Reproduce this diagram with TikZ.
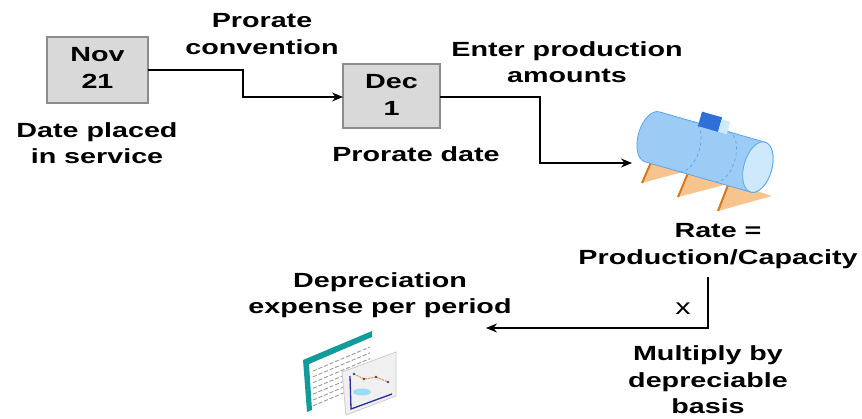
\documentclass[tikz,border=0pt]{standalone}
\usepackage{fontspec}
\setmainfont[FakeStretch=1.4]{Liberation Sans}
\usetikzlibrary{arrows.meta}
\definecolor{boxfill}{HTML}{D9D9D9}
\definecolor{boxline}{HTML}{8C8C8C}
\definecolor{tankbody}{HTML}{9CCBF5}
\definecolor{tankline}{HTML}{5AA6EE}
\definecolor{tankend}{HTML}{CFE9FC}
\definecolor{tankcap}{HTML}{2F6FD8}
\definecolor{legdark}{HTML}{D9761E}
\definecolor{leglight}{HTML}{F8C48E}
\definecolor{sheetteal}{HTML}{139A9A}
\definecolor{chartblue}{HTML}{2A2AA0}
\definecolor{chartorange}{HTML}{E8803A}
\tikzset{
  datebox/.style={draw=boxline, fill=boxfill, line width=1.3pt},
  lbl/.style={font=\fontsize{20.5}{26.5}\selectfont\bfseries, align=center, inner sep=0pt},
  flow/.style={line width=1.6pt, -{Stealth[length=11pt,width=9pt]}},
}
\begin{document}
\begin{tikzpicture}[x=1pt,y=-1pt]
\useasboundingbox (0,0) rectangle (862,418);

% date boxes
\draw[datebox] (47,37) rectangle (148,103);
\node[lbl] (nov) at (97.5,68) {Nov\\21};
\coordinate (novE) at (148,70);
\draw[datebox] (343,64) rectangle (440,128);
\node[lbl] (dec) at (391.5,95) {Dec\\1};
\coordinate (decW) at (343,97);
\coordinate (decE) at (440,97);

% labels
\node[lbl] (conv) at (262,34) {Prorate\\convention};
\node[lbl] (placed) at (97,143) {Date placed\\in service};
\node[lbl] (prodate) at (416,154) {Prorate date};
\node[lbl] (enter) at (567,62) {Enter production\\amounts};
\node[lbl] (rate) at (718,246) {Rate =\\Production/Capacity};
\node[lbl] (deprec) at (380,295) {Depreciation\\expense per period};
\node[lbl] (mult) at (708,380) {Multiply by\\depreciable\\basis};
\node[font=\fontsize{22}{24}\selectfont, inner sep=0pt] (times) at (683,309) {x};

% tank on three supports
\coordinate (tankW) at (632,163);
\begin{scope}
  \fill[leglight] (642,183) -- (652,158) -- (690,170) -- cycle;
  \draw[legdark, line width=2pt] (642,183) -- (652,160);
  \fill[leglight] (678,197) -- (689,170) -- (728,184) -- cycle;
  \draw[legdark, line width=2pt] (678,197) -- (688,173);
  \fill[leglight] (718,211) -- (729,182) -- (772,196) -- cycle;
  \draw[legdark, line width=2pt] (718,211) -- (728,185);
\end{scope}
\begin{scope}[shift={(705,152)}, rotate=-16]
  \draw[tankline, fill=tankbody, line width=0.8pt]
    (-55,-26) -- (55,-26) arc[start angle=-90, end angle=90, x radius=14, y radius=26]
    -- (-55,26) arc[start angle=90, end angle=270, x radius=14, y radius=26] -- cycle;
  \draw[tankline, dashed, line width=0.7pt]
    (-20,-26) arc[start angle=-90, end angle=90, x radius=14, y radius=26];
  \draw[tankline, dashed, line width=0.7pt]
    (17,-26) arc[start angle=-90, end angle=90, x radius=14, y radius=26];
  \draw[tankline, fill=tankend, line width=0.8pt] (55,0) ellipse[x radius=14, y radius=26];
  \fill[tankcap] (-14,-38) rectangle (7,-23);
  \fill[tankend] (7,-36) rectangle (16,-23);
\end{scope}

% spreadsheet and chart
\coordinate (sheet) at (340,385);
\begin{scope}
  \fill[white] (304,362) -- (372,333) -- (372,388) -- (308,412) -- cycle;
  \fill[sheetteal] (303,360) -- (372,331) -- (372,337) -- (309,364) -- (312,410) -- (307,412) -- cycle;
  \foreach \i in {0,...,6}
    \draw[gray!80, line width=0.9pt, dash pattern=on 4pt off 2pt]
      (313,{371+5.8*\i}) -- (370,{347+5.8*\i});
  \draw[gray!40, fill=gray!12, line width=0.8pt]
    (342,372) -- (396,352) -- (396,396) -- (346,415) -- cycle;
  \draw[chartblue, line width=1.3pt] (350,376) -- (351,409) -- (392,394);
  \fill[cyan!40] (362,392) ellipse[x radius=9, y radius=3.5];
  \draw[chartorange, line width=0.9pt, dash pattern=on 2pt off 1pt]
    (354,374) -- (364,379) -- (376,377) -- (388,382);
  \foreach \p in {(354,374),(364,379),(376,377),(388,382)}
    \fill[black!70] \p circle (1.4);
\end{scope}

% connectors
\draw[flow] (novE) -- (243,70) -- (243,97) -- (decW);
\draw[flow] (decE) -- (540,97) -- (540,163) -- (tankW);
\coordinate (rateS) at (708,277);
\draw[flow] (rateS) -- (708,328) -- (486,328);
\end{tikzpicture}
\end{document}
